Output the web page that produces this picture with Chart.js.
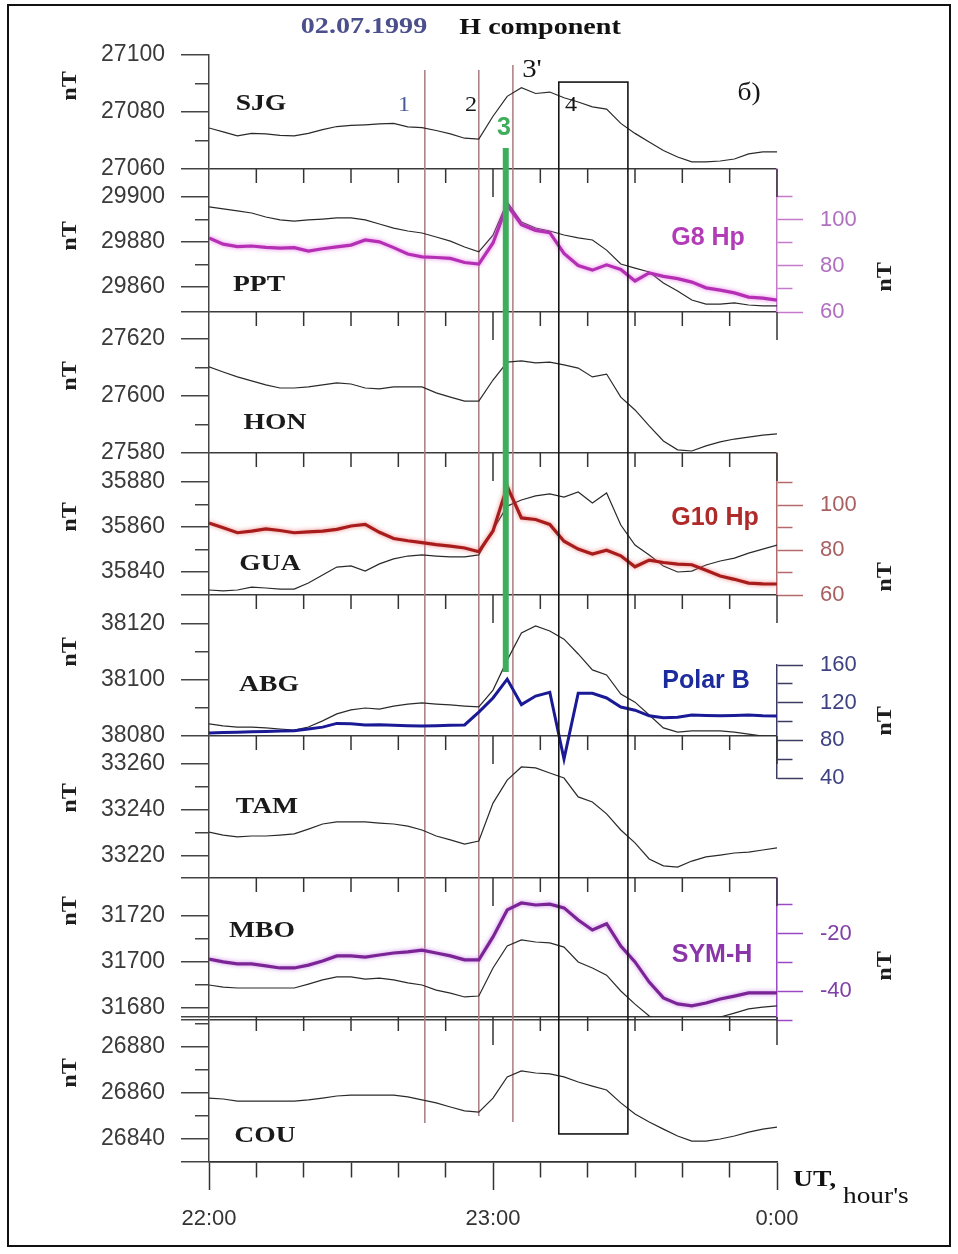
<!DOCTYPE html>
<html>
<head>
<meta charset="utf-8">
<title>02.07.1999 H component</title>
<script src="https://cdn.jsdelivr.net/npm/chart.js@4.4.1/dist/chart.umd.min.js"></script>
<style>
  html, body { margin: 0; padding: 0; background: #fff; }
  canvas { display: block; }
</style>
</head>
<body>
<canvas id="chart" width="958" height="1254"></canvas>
<script>
// time axis: minutes after 22:00 UT
const minutes = [0,3,6,9,12,15,18,21,24,27,30,33,36,39,42,45,48,51,54,57,60,63,66,69,72,75,78,81,84,87,90,93,96,99,102,105,108,111,114,117,120];

// H component of the stations, nT
const sjg = [27074.4,27073,27071.6,27072.5,27072.3,27071.8,27071.6,27072.5,27073.8,27074.9,27075.3,27075.5,27075.8,27076,27074.8,27074.5,27073.5,27072.3,27070.8,27070.5,27078.5,27085.5,27088.5,27086.5,27087,27085,27083.5,27081.8,27081,27076,27072.5,27069.5,27066.5,27064.2,27062.5,27062.5,27062.8,27063.5,27065.3,27066,27066];
const ppt = [29895.6,29894.7,29893.8,29892.9,29891.1,29889.8,29889.3,29889.8,29890.2,29890.7,29890.7,29889.8,29888,29886.2,29884.9,29884,29882.2,29880.4,29877.8,29875.6,29883,29897.8,29888.9,29886.2,29884.9,29883.1,29881.8,29880.9,29876.4,29870.2,29868.4,29866.7,29861.8,29858.2,29854.2,29852.4,29852.4,29852.9,29852,29851.6,29851.6];
const hon = [27610.2,27608.4,27606.7,27605.3,27603.9,27602.8,27602.8,27603.2,27603.9,27604.6,27604.2,27602.8,27602.5,27603.2,27603.2,27603.2,27601.1,27599.6,27598.2,27598.2,27605.6,27611.9,27612.3,27611.6,27611.9,27610.9,27609.8,27606.7,27607.7,27599.6,27595.1,27589.5,27584.2,27581.1,27580.7,27582.5,27583.9,27584.9,27585.6,27586.3,27586.7];
const gua = [35832,35831.6,35832,35833.3,35832.9,35832.4,35832.4,35835.1,35838.7,35842.2,35842.7,35840.4,35843.6,35845.8,35847.1,35847.6,35847.1,35846.7,35846.7,35847.6,35858.7,35869.3,35872,35873.8,35874.7,35873.3,35875.6,35870.7,35875.1,35860.9,35852,35847.6,35842.7,35840,35840.4,35843.1,35844.9,35846.2,35848.4,35850.2,35852];
const abg = [38084.3,38083.6,38083.2,38083.2,38082.9,38082.5,38082.1,38083.2,38085.4,38087.9,38089.3,38090,38089.6,38090.7,38091.4,38091.8,38091.4,38091.1,38090.7,38090.4,38096.4,38107.1,38116.8,38119.3,38117.5,38114.6,38109.3,38103.6,38101.8,38095,38092.1,38087.5,38082.9,38081.4,38081.8,38081.8,38081.8,38081.4,38080.7,38080,38080];
const tam = [33230.4,33229.1,33228.3,33228.7,33228.7,33229.1,33229.6,33231.7,33233.9,33234.8,33234.8,33234.8,33234.3,33233.9,33233,33231.3,33228.7,33227,33225.2,33226.5,33243,33253,33258.7,33258.3,33256.1,33253.9,33245.7,33243.5,33238.3,33231.3,33225.7,33218.7,33215.7,33215.2,33217.8,33219.6,33220.4,33221.3,33221.7,33222.6,33223.5];
const mbo = [31690,31689.1,31688.7,31688.7,31688.7,31688.7,31688.7,31690.4,31692.2,31693.5,31693.5,31692.6,31693,31692.2,31690.9,31690,31687.8,31686.5,31684.8,31685.2,31697.4,31707,31709.6,31708.7,31708.3,31706.5,31700,31697.4,31694.3,31687.4,31681.7,31676.5,31673,31672.6,31673.5,31675.2,31676.1,31677.8,31679.6,31680.4,31680.9];
const cou = [26857.8,26857.4,26856.5,26856.5,26856.5,26856.5,26856.5,26857,26857.8,26858.7,26859.1,26859.1,26859.1,26859.1,26858.3,26857,26855.7,26853.9,26852.2,26851.7,26857.8,26867,26869.6,26868.7,26868.3,26867,26864.8,26863,26861.3,26855.7,26850.9,26847.4,26844.3,26841.3,26839.1,26839.1,26840,26841.3,26843,26844.3,26845.2];

// overlays (right axes), nT
const g8Hp = [92.2,89.5,88.4,88.7,88.1,87.8,88,86.5,87.5,88.3,89.1,91.3,90.5,88,85.2,84,83.7,83.3,81.5,80.8,90,106.5,98,95.5,94.5,85.5,80.2,78.2,80.5,78.5,73.5,77,75.5,74.5,73,70.5,69.5,68.3,66.5,66,65.2];
const g10Hp = [92.1,90,87.8,88.5,89.5,88.8,87.8,88.2,88.5,89.3,90.8,91.5,88,85.2,84.2,83.4,82.5,81.8,81,79.3,88.6,108.5,94.4,93.7,91.5,84,80.5,78.3,80,77.5,72.6,75.6,74.5,73.8,73.5,71,68.5,67,65.3,65,64.9];
const polarB = [87.8,88.2,88.6,89,89.3,89.8,90.3,92,94,98,97.5,96.3,96.5,96,95.5,95.2,95.5,96,96.3,110,125,145,118,127,131,60,130,130,125,115.4,112,106,104,104.5,107,106.5,106,106.5,106.9,106,105.9];
const symH = [-28.8,-29.8,-30.5,-30.5,-31.2,-31.9,-31.9,-30.9,-29.5,-27.7,-27.7,-28.1,-27.4,-26.7,-26.3,-25.7,-26.7,-27.7,-29.1,-29.1,-21.1,-11.7,-9.3,-10,-9.7,-11,-15.2,-18.7,-16.5,-24.3,-29.8,-36.8,-42.3,-44.4,-45.1,-44.1,-42.7,-41.7,-40.6,-40.6,-40.6];

// tick values
const sjgTicks = [27060,27070,27080,27090,27100];
const pptTicks = [29860,29870,29880,29890,29900];
const honTicks = [27580,27590,27600,27610,27620];
const guaTicks = [35840,35850,35860,35870,35880];
const abgTicks = [38080,38090,38100,38110,38120];
const tamTicks = [33220,33230,33240,33250,33260];
const mboTicks = [31680,31690,31700,31710,31720];
const couTicks = [26840,26850,26860,26870,26880,26890];
const g8Ticks = [60,70,80,90,100,110];
const g10Ticks = [60,70,80,90,100,110];
const polarTicks = [40,60,80,100,120,140,160];
const symTicks = [-50,-40,-30,-20,-10];
const xTicks = [0,10,20,30,40,50,60,70,80,90,100,110,120];
const xTickLabels = ['22:00','','','','','','23:00','','','','','','0:00'];

// marked moments (minutes after 22:00)
const eventMinutes = [45.6, 57, 64.2];
const eventLabels = ['1', '2', "3'"];
const greenMinute = 62.7;
const boxMinutes = [73.9, 88.5];

const SERIF = '"Liberation Serif", "Times New Roman", serif';
const SANS = '"Liberation Sans", Arial, sans-serif';

function stationAxis(order, weight, min, max, ticks, lines) {
  const marks = Array.from(new Set(ticks.concat(lines))).sort((a, b) => a - b);
  const isLine = c => c.tick && lines.includes(c.tick.value);
  const isMajor = c => c.tick && (isLine(c) || c.tick.value % 20 === 0);
  return {
    type: 'linear', position: 'left', stack: 'stations', stackWeight: weight, weight: order,
    min, max,
    afterBuildTicks: s => { s.ticks = marks.map(v => ({ value: v })); },
    afterFit: s => { s.width = 209; },
    ticks: {
      autoSkip: false, padding: 16, color: '#3a3a3a',
      font: { family: SANS, size: 23 },
      callback: v => (ticks.includes(v) && v % 20 === 0) ? String(v) : ''
    },
    grid: {
      drawOnChartArea: true, tickLength: 28, lineWidth: 1.5,
      color: c => isLine(c) ? '#3a3a3a' : 'rgba(0,0,0,0)',
      tickColor: '#444', tickWidth: 1.5,
      tickBorderDash: c => isMajor(c) ? [] : [14, 14],
      tickBorderDashOffset: c => isMajor(c) ? 0 : 14
    },
    border: { color: '#444', width: 1.5 },
    title: { display: false }
  };
}

function overlayAxis(order, weight, min, max, ticks, step, color, labelColor) {
  const isMajor = c => c.tick && c.tick.value % step === 0;
  return {
    type: 'linear', position: 'right', stack: 'overlays', stackWeight: weight, weight: order,
    min, max,
    afterBuildTicks: s => { s.ticks = ticks.map(v => ({ value: v })); },
    afterFit: s => { s.width = 181; },
    ticks: {
      autoSkip: false, padding: 17, color: labelColor,
      font: { family: SANS, size: 22 },
      callback: v => v % step === 0 ? String(v) : ''
    },
    grid: {
      drawOnChartArea: false, tickLength: 26, tickColor: color, tickWidth: 1.5,
      tickBorderDash: c => isMajor(c) ? [] : [15, 30]
    },
    border: { color, width: 1.5 },
    title: { display: false }
  };
}

function spacer(order, weight) {
  return {
    type: 'linear', position: 'right', stack: 'overlays', stackWeight: weight, weight: order,
    display: false, afterFit: s => { s.width = 181; }
  };
}

function series(values, axis, color, width, order, halo) {
  return {
    data: minutes.map((m, i) => ({ x: m, y: values[i] })),
    yAxisID: axis, borderColor: color, borderWidth: width,
    pointRadius: 0, tension: 0, fill: false, order, halo
  };
}

function label(ctx, str, x, y, font, color, align, sx, rot) {
  ctx.save();
  ctx.font = font;
  ctx.fillStyle = color;
  ctx.textAlign = align || 'center';
  ctx.textBaseline = 'middle';
  ctx.translate(x, y);
  if (rot) ctx.rotate(rot);
  ctx.scale(sx || 1, 1);
  ctx.fillText(str, 0, 0);
  ctx.restore();
}

const panelIds = ['ySJG', 'yPPT', 'yHON', 'yGUA', 'yABG', 'yTAM', 'yMBO', 'yCOU'];

const decorations = {
  id: 'decorations',
  beforeDatasetDraw(chart, args) {
    const halo = args.meta.controller.getDataset().halo;
    if (halo) {
      chart.ctx.save();
      chart.ctx.shadowColor = halo;
      chart.ctx.shadowBlur = 4;
    }
  },
  afterDatasetDraw(chart, args) {
    if (args.meta.controller.getDataset().halo) chart.ctx.restore();
  },
  beforeDatasetsDraw(chart) {
    const { ctx, scales } = chart;
    const x = scales.x;
    ctx.save();
    // time ticks hanging from each panel's upper edge
    ctx.strokeStyle = '#333';
    ctx.lineWidth = 1.5;
    panelIds.slice(1).forEach(id => {
      const top = scales[id].top;
      xTicks.forEach(v => {
        if (v === 0) return;
        const px = x.getPixelForValue(v);
        ctx.beginPath();
        ctx.moveTo(px, top);
        ctx.lineTo(px, top + (v % 60 === 0 ? 28 : 14));
        ctx.stroke();
      });
    });
    // event lines 1, 2, 3'
    const tops = [27094.7, 27094.7, 27096.5];
    const bottoms = [26847, 26850, 26847.4];
    ctx.strokeStyle = '#a97b82';
    ctx.lineWidth = 1.5;
    eventMinutes.forEach((m, i) => {
      const px = x.getPixelForValue(m);
      ctx.beginPath();
      ctx.moveTo(px, scales.ySJG.getPixelForValue(tops[i]));
      ctx.lineTo(px, scales.yCOU.getPixelForValue(bottoms[i]));
      ctx.stroke();
    });
    ctx.restore();
  },
  afterDatasetsDraw(chart) {
    const { ctx, scales } = chart;
    const x = scales.x;
    ctx.save();
    // green line 3
    const gx = x.getPixelForValue(greenMinute);
    ctx.strokeStyle = '#3fae5c';
    ctx.lineWidth = 6;
    ctx.beginPath();
    ctx.moveTo(gx, scales.ySJG.getPixelForValue(27067.4));
    ctx.lineTo(gx, scales.yABG.getPixelForValue(38102.9));
    ctx.stroke();
    // interval 4
    const bx1 = x.getPixelForValue(boxMinutes[0]);
    const bx2 = x.getPixelForValue(boxMinutes[1]);
    const by1 = scales.ySJG.getPixelForValue(27090.5);
    const by2 = scales.yCOU.getPixelForValue(26842.2);
    ctx.strokeStyle = '#151515';
    ctx.lineWidth = 1.6;
    ctx.strokeRect(bx1, by1, bx2 - bx1, by2 - by1);
    ctx.restore();

    const stationFont = 'bold 24px ' + SERIF;
    [['SJG', 261, 104], ['PPT', 259, 285], ['HON', 275, 423], ['GUA', 270, 564],
     ['ABG', 269, 685], ['TAM', 267, 807], ['MBO', 262, 931], ['COU', 265, 1136]]
      .forEach(([s, px, py]) => label(ctx, s, px, py, stationFont, '#1a1a1a', 'center', 1.15));

    const tagFont = 'bold 25px ' + SANS;
    label(ctx, 'G8 Hp', 708, 238, tagFont, '#b23cb8');
    label(ctx, 'G10 Hp', 715, 518, tagFont, '#b02a2a');
    label(ctx, 'Polar B', 706, 681, tagFont, '#1c2c9c');
    label(ctx, 'SYM-H', 712, 955, tagFont, '#8a35a8');

    label(ctx, eventLabels[0], 404, 105, '21px ' + SERIF, '#4a5a98', 'center', 1.15);
    label(ctx, eventLabels[1], 471, 105, '21px ' + SERIF, '#151515', 'center', 1.15);
    label(ctx, eventLabels[2], 532, 70, '25px ' + SERIF, '#151515', 'center', 1.15);
    label(ctx, '3', 504, 128, 'bold 25px ' + SANS, '#3fae5c');
    label(ctx, '4', 571, 105, '21px ' + SERIF, '#151515', 'center', 1.15);
    label(ctx, 'б)', 749, 93, '25px ' + SERIF, '#151515', 'center', 1.1);
  },
  afterDraw(chart) {
    const { ctx } = chart;
    // axis units
    const unitFont = 'bold 22px ' + SERIF;
    [86, 236, 376, 517, 652, 798, 911, 1073]
      .forEach(py => label(ctx, 'nT', 70, py, unitFont, '#1e1e1e', 'center', 1.1, -Math.PI / 2));
    [277, 577, 721, 966]
      .forEach(py => label(ctx, 'nT', 885, py, unitFont, '#1e1e1e', 'center', 1.1, -Math.PI / 2));

    label(ctx, '02.07.1999', 364, 27, 'bold 24px ' + SERIF, '#4b4f8c', 'center', 1.17);
    label(ctx, 'H component', 540, 28, 'bold 24px ' + SERIF, '#111', 'center', 1.17);
    label(ctx, 'UT,', 793, 1180, 'bold 24px ' + SERIF, '#111', 'left', 1.15);
    label(ctx, "hour's", 843, 1197, '24px ' + SERIF, '#111', 'left', 1.14);
    ctx.save();
    ctx.strokeStyle = '#111';
    ctx.lineWidth = 2;
    ctx.strokeRect(8, 5, 942, 1241);
    ctx.restore();
  }
};

new Chart(document.getElementById('chart'), {
  type: 'line',
  data: {
    datasets: [
      series(sjg, 'ySJG', '#2a2a2a', 1.2, 1),
      series(ppt, 'yPPT', '#2a2a2a', 1.2, 1),
      series(hon, 'yHON', '#2a2a2a', 1.2, 1),
      series(gua, 'yGUA', '#2a2a2a', 1.2, 1),
      series(abg, 'yABG', '#2a2a2a', 1.2, 1),
      series(tam, 'yTAM', '#2a2a2a', 1.2, 1),
      series(mbo, 'yMBO', '#2a2a2a', 1.2, 1),
      series(cou, 'yCOU', '#2a2a2a', 1.2, 1),
      series(g8Hp, 'rG8', '#b52fb5', 3.2, 0, 'rgba(230,120,230,0.9)'),
      series(g10Hp, 'rG10', '#a81c1c', 3.2, 0, 'rgba(235,120,120,0.9)'),
      series(polarB, 'rPolar', '#1a1a96', 3, 0),
      series(symH, 'rSym', '#7b2496', 3.2, 0, 'rgba(200,130,230,0.9)')
    ]
  },
  options: {
    responsive: false,
    devicePixelRatio: 1,
    animation: false,
    events: [],
    layout: { padding: { top: 55, bottom: 22, left: 0, right: 0 } },
    plugins: { legend: { display: false }, tooltip: { enabled: false }, title: { display: false } },
    scales: {
      x: {
        type: 'linear', position: 'bottom', min: 0, max: 120,
        afterBuildTicks: s => { s.ticks = xTicks.map(v => ({ value: v })); },
        afterFit: s => { s.height = 70; },
        ticks: {
          autoSkip: false, maxRotation: 0, padding: 16, color: '#333',
          font: { family: SANS, size: 22 },
          callback: v => xTickLabels[xTicks.indexOf(v)]
        },
        grid: {
          drawOnChartArea: false, tickLength: 28, tickColor: '#333', tickWidth: 1.5,
          tickBorderDash: c => (c.tick && c.tick.value % 60 === 0) ? [] : [15, 30]
        },
        border: { color: '#333', width: 1.5 }
      },
      ySJG: stationAxis(8, 114, 27060, 27100, sjgTicks, [27060]),
      yPPT: stationAxis(7, 143, 29848.89, 29912.44, pptTicks, [29848.89]),
      yHON: stationAxis(6, 141, 27580, 27629.47, honTicks, [27580]),
      yGUA: stationAxis(5, 142, 35829.78, 35892.89, guaTicks, [35829.78]),
      yABG: stationAxis(4, 141, 38080, 38130.36, abgTicks, [38080]),
      yTAM: stationAxis(3, 142, 33210.43, 33272.17, tamTicks, [33210.43]),
      yMBO: stationAxis(2, 139, 31676.09, 31736.52, mboTicks, [31676.09]),
      yCOU: stationAxis(1, 145, 26830, 26893.04, couTicks, [26830, 26891.7]),
      r0: spacer(1, 114),
      rG8: overlayAxis(2, 143, 60, 122.17, g8Ticks, 20, '#c47ac8', '#b070c0'),
      r2: spacer(3, 141),
      rG10: overlayAxis(4, 142, 60, 123.39, g10Ticks, 20, '#b46a6a', '#a86060'),
      r4: spacer(5, 70),
      rPolar: overlayAxis(6, 113, 40, 160, polarTicks, 40, '#3c3c62', '#3e4282'),
      r6: spacer(7, 100),
      rSym: overlayAxis(8, 142, -50, -0.61, symTicks, 20, '#9a48c4', '#8040a4'),
      r8: spacer(9, 142)
    }
  },
  plugins: [decorations]
});
</script>
</body>
</html>
